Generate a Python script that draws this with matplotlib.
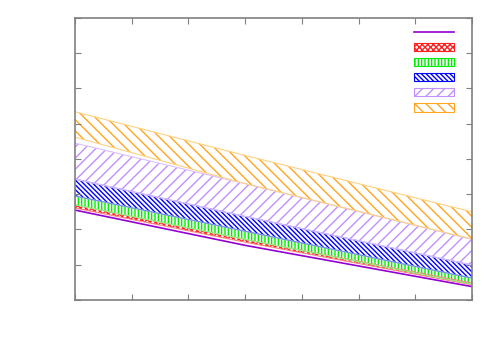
import matplotlib
matplotlib.use("Agg")
import matplotlib.pyplot as plt
from matplotlib.patches import Patch
from matplotlib.lines import Line2D

# values (x at 0, 3, 7)
x = [0, 3, 7]
purple = [2.55, 1.55, 0.38]
red_lo = [2.61, 1.64, 0.43]
red_hi = [2.70, 1.72, 0.48]
green_lo = [2.70, 1.72, 0.45]
green_hi = [2.95, 1.95, 0.62]
blue_lo = [2.95, 1.95, 0.62]
blue_hi = [3.43, 2.37, 0.99]
lav_lo = [3.43, 2.37, 0.99]
lav_hi = [4.45, 3.30, 1.72]
orange_lo = [4.62, 3.30, 1.73]
orange_hi = [5.34, 4.10, 2.50]

bands = [
    (red_lo, red_hi, "#ff2020", "#ff8080", "xxxxxx"),
    (green_lo, green_hi, "#00ee00", "#80ff80", "|||||"),
    (blue_lo, blue_hi, "#0000ff", "#8080ff", "\\" * 7),
    (lav_lo, lav_hi, "#c090ff", "#dcc0ff", "///"),
    (orange_lo, orange_hi, "#ffa520", "#ffd080", "\\" * 3),
]

fig = plt.figure(figsize=(5, 3.5), dpi=100)
ax = fig.add_axes([0.15, 0.1429, 0.794, 0.8057])

handles = [Line2D([0], [0], color="#9400d3", lw=1.2)]
ax.plot(x, purple, color="#9400d3", lw=1.2)
for lo, hi, col, edge, hatch in bands:
    ax.fill_between(x, lo, hi, facecolor="none", edgecolor=col, hatch=hatch, linewidth=0)
    ax.plot(x, lo, color=edge, lw=0.8)
    ax.plot(x, hi, color=edge, lw=0.8)
    handles.append(Patch(facecolor="none", edgecolor=col, hatch=hatch, linewidth=0.8))

ax.legend(handles, [""] * len(handles), loc="upper right", frameon=False, fontsize=8,
          handlelength=3.6, handleheight=0.8, labelspacing=0.45,
          borderaxespad=0.0, borderpad=0.4, handletextpad=0.2,
          bbox_to_anchor=(0.972, 0.982))

ax.set_xlim(0, 7)
ax.set_ylim(0, 8)
ax.set_xticks(range(0, 8))
ax.set_yticks(range(0, 9))
ax.tick_params(direction="in", top=True, right=True, length=4, color="#808080",
               labelbottom=False, labelleft=False)
for s in ax.spines.values():
    s.set_color("#808080")
    s.set_linewidth(1.2)

fig.savefig("out.png", dpi=100)
